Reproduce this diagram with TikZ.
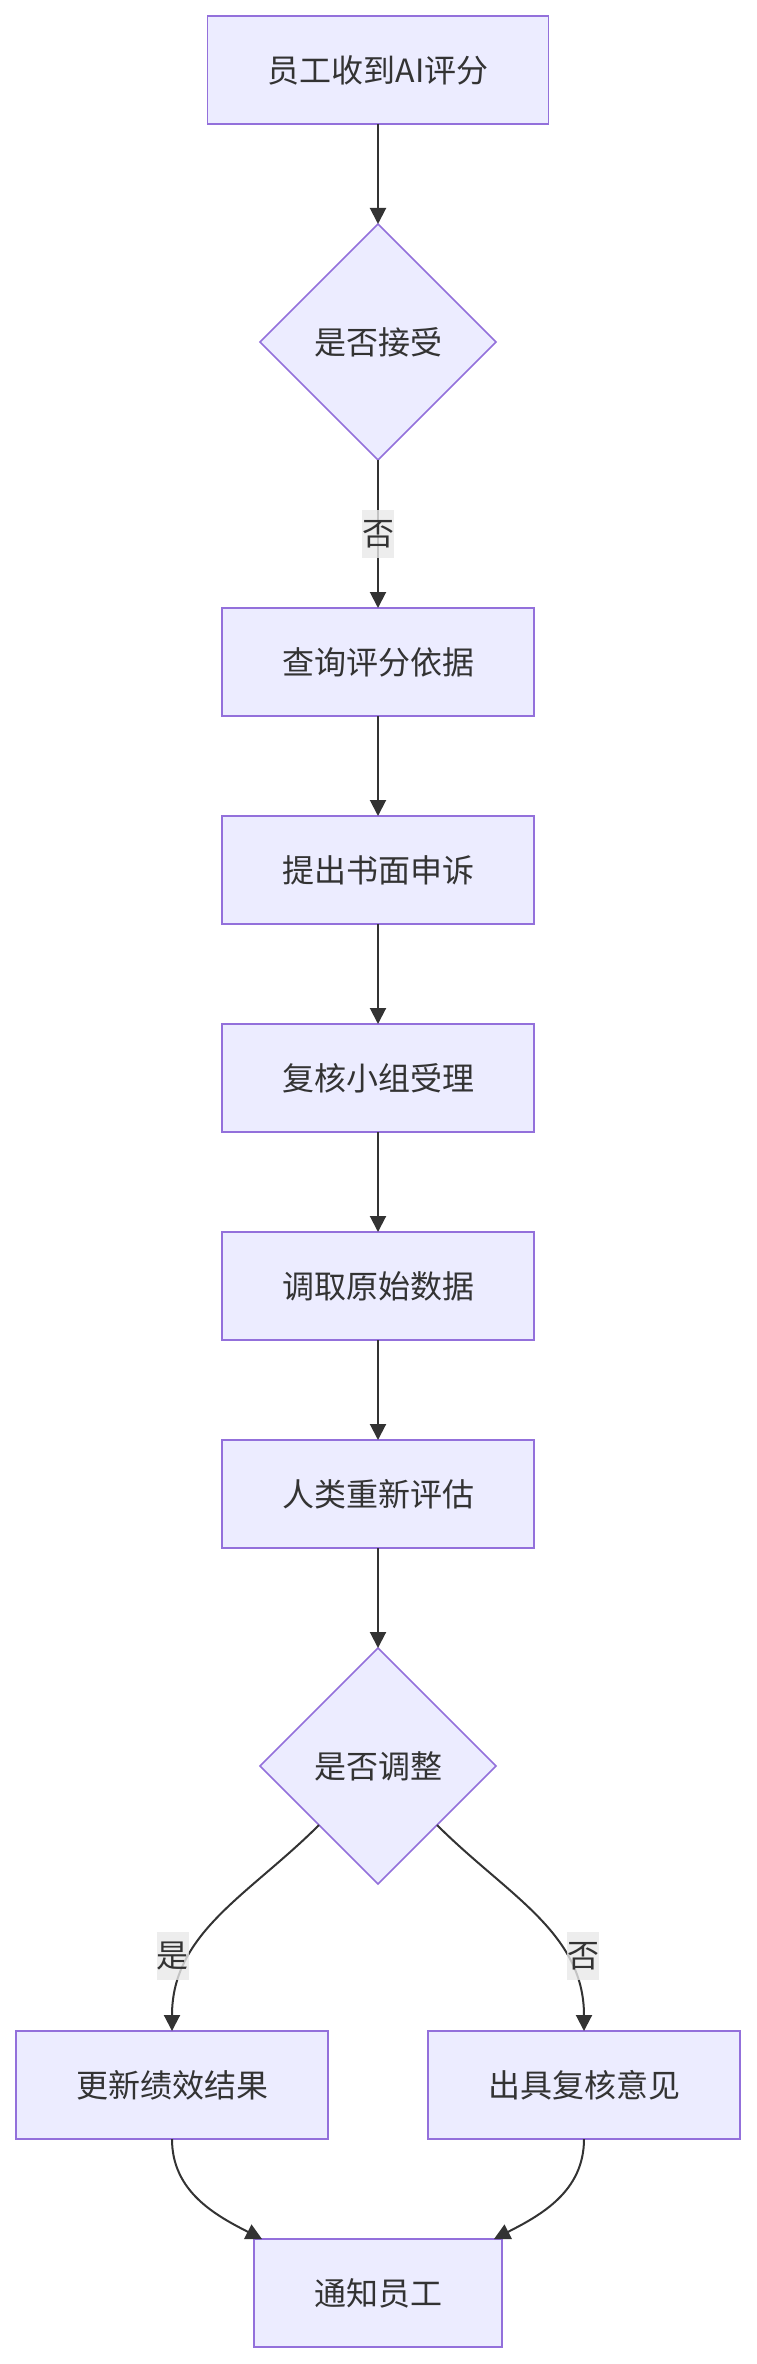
\documentclass[tikz,border=0pt]{standalone}
\usepackage{fontspec}
\newfontfamily\cjk{Noto Sans CJK SC}
\usepackage{xcolor}
\usetikzlibrary{shapes.geometric, arrows.meta, positioning}

\definecolor{nodefill}{HTML}{ECECFF}
\definecolor{nodeborder}{HTML}{9370DB}
\definecolor{darktext}{HTML}{333333}
\definecolor{labelgray}{HTML}{E8E8E8}

\begin{document}
\begin{tikzpicture}[
  node distance=50pt,
  process/.style={rectangle, draw=nodeborder, line width=0.75pt, fill=nodefill,
                  minimum height=54pt, inner xsep=30pt, outer sep=0pt, text=darktext,
                  font=\cjk\fontsize{16pt}{20pt}\selectfont},
  decision/.style={diamond, aspect=1, draw=nodeborder, line width=0.75pt, fill=nodefill,
                   minimum width=118pt, minimum height=118pt, inner sep=0pt, outer sep=0pt,
                   text=darktext, font=\cjk\fontsize{16pt}{20pt}\selectfont},
  edgelabel/.style={fill=labelgray, fill opacity=0.8, text opacity=1, text=darktext,
                    inner sep=0pt, minimum width=16pt, minimum height=24pt,
                    font=\cjk\fontsize{16pt}{20pt}\selectfont},
  arrow/.style={-{Triangle[length=8pt, width=8pt]}, line width=1pt, draw=darktext}
]
\useasboundingbox (0,0) rectangle (378pt,-1182pt);

\node[process] (receive) at (189pt,-35pt) {员工收到AI评分};
\node[decision, below=of receive] (accept) {是否接受};
\node[process, below=74pt of accept] (query) {查询评分依据};
\node[process, below=of query] (appeal) {提出书面申诉};
\node[process, below=of appeal] (team) {复核小组受理};
\node[process, below=of team] (rawdata) {调取原始数据};
\node[process, below=of rawdata] (reeval) {人类重新评估};
\node[decision, below=of reeval] (adjust) {是否调整};
\node[process, below=73.5pt of adjust, xshift=-103pt] (update) {更新绩效结果};
\node[process, below=73.5pt of adjust, xshift=103pt] (opinion) {出具复核意见};
\node[process, below=of update, xshift=103pt] (notify) {通知员工};

% down arrows
\draw[arrow] (receive) -- (accept);
\draw[arrow] (accept) -- node[edgelabel]{否} (query);
\draw[arrow] (query) -- (appeal);
\draw[arrow] (appeal) -- (team);
\draw[arrow] (team) -- (rawdata);
\draw[arrow] (rawdata) -- (reeval);
\draw[arrow] (reeval) -- (adjust);

% branches
\draw[arrow] (adjust.south west) to[out=-135, in=90]
  node[edgelabel, pos=0.7, xshift=-9pt]{是} (update.north);
\draw[arrow] (adjust.south east) to[out=-45, in=90]
  node[edgelabel, pos=0.7, xshift=9pt]{否} (opinion.north);

% merge
\draw[arrow] (update.south) to[out=-90, in=153] ([xshift=4pt]notify.north west);
\draw[arrow] (opinion.south) to[out=-90, in=27] ([xshift=-4pt]notify.north east);
\end{tikzpicture}
\end{document}
